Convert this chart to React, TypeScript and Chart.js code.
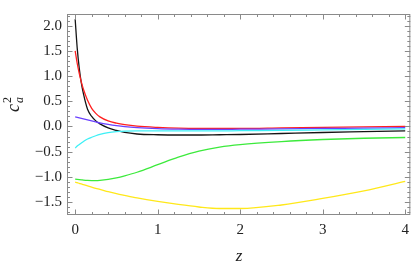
import { useEffect, useRef } from "react";
import { Chart, registerables } from "chart.js";

Chart.register(...registerables);

// ---- data ----
const zValues = [0, 0.025, 0.05, 0.075, 0.1, 0.15, 0.2, 0.25, 0.3, 0.4, 0.5, 0.6, 0.75, 1, 1.25, 1.5, 1.75, 2, 2.5, 3, 3.5, 4];
const blackSeries = [2.13, 1.55, 1.15, 0.86, 0.65, 0.34, 0.2, 0.11, 0.05, -0.03, -0.08, -0.12, -0.15, -0.165, -0.17, -0.17, -0.165, -0.16, -0.14, -0.12, -0.105, -0.09];
const redSeries = [1.5, 1.25, 1.05, 0.88, 0.74, 0.52, 0.36, 0.26, 0.19, 0.11, 0.065, 0.035, 0.005, -0.02, -0.035, -0.04, -0.04, -0.04, -0.03, -0.02, -0.01, 0.0];
const blueSeries = [0.19, 0.18, 0.17, 0.16, 0.15, 0.13, 0.11, 0.09, 0.07, 0.04, 0.015, -0.005, -0.025, -0.045, -0.055, -0.06, -0.06, -0.055, -0.05, -0.04, -0.035, -0.025];
const cyanSeries = [-0.43, -0.39, -0.36, -0.33, -0.3, -0.25, -0.215, -0.185, -0.16, -0.125, -0.105, -0.095, -0.09, -0.09, -0.09, -0.09, -0.09, -0.085, -0.08, -0.07, -0.06, -0.05];
const greenSeries = [-1.045, -1.05, -1.055, -1.06, -1.065, -1.072, -1.075, -1.075, -1.07, -1.05, -1.02, -0.98, -0.91, -0.76, -0.61, -0.49, -0.41, -0.36, -0.3, -0.26, -0.235, -0.22];
const yellowSeries = [-1.105, -1.117, -1.13, -1.142, -1.155, -1.18, -1.205, -1.23, -1.25, -1.295, -1.335, -1.37, -1.42, -1.49, -1.55, -1.6, -1.63, -1.63, -1.56, -1.43, -1.28, -1.09];

const xTickValues = [0, 1, 2, 3, 4];
const xTickLabels = ["0", "1", "2", "3", "4"];
const yTickValues = [-1.5, -1, -0.5, 0, 0.5, 1, 1.5, 2];
const yTickLabels = ["\u22121.5", "\u22121.0", "\u22120.5", "0.0", "0.5", "1.0", "1.5", "2.0"];
const xAxisTitle = "z";
const yAxisTitleBase = "c";
const yAxisTitleSub = "a";
const yAxisTitleSup = "2";

const X_MIN = -0.099;
const X_MAX = 4.062;
const Y_MIN = -1.759;
const Y_MAX = 2.233;

const SERIF = '"Liberation Serif", "Times New Roman", "DejaVu Serif", serif';

const toPoints = (ys: number[]) => ys.map((y, i) => ({ x: zValues[i], y }));

const framePlugin = {
  id: "mmaFrame",
  afterDraw(chart: any) {
    const { ctx, chartArea, scales } = chart;
    const { left, right, top, bottom } = chartArea;
    const xs = scales.x;
    const ys = scales.y;
    ctx.save();
    ctx.strokeStyle = "#8a8a8a";
    ctx.lineWidth = 1;
    ctx.strokeRect(left + 0.5, top + 0.5, right - left - 1, bottom - top - 1);

    const majorLen = 5.5;
    const minorLen = 3;
    ctx.beginPath();
    // x ticks (bottom & top)
    for (let k = -1; k <= 21; k++) {
      const v = k * 0.2;
      if (v < X_MIN || v > X_MAX) continue;
      const isMajor = Math.abs(v - Math.round(v)) < 1e-9;
      const len = isMajor ? majorLen : minorLen;
      const px = Math.round(xs.getPixelForValue(v)) + 0.5;
      ctx.moveTo(px, bottom);
      ctx.lineTo(px, bottom - len);
      ctx.moveTo(px, top);
      ctx.lineTo(px, top + len);
    }
    // y ticks (left & right)
    for (let k = -20; k <= 25; k++) {
      const v = k * 0.1;
      if (v < Y_MIN || v > Y_MAX) continue;
      const isMajor = k % 5 === 0;
      const len = isMajor ? majorLen : minorLen;
      const py = Math.round(ys.getPixelForValue(v)) + 0.5;
      ctx.moveTo(left, py);
      ctx.lineTo(left + len, py);
      ctx.moveTo(right, py);
      ctx.lineTo(right - len, py);
    }
    ctx.stroke();

    // axis titles
    ctx.fillStyle = "#222";
    ctx.textAlign = "center";
    ctx.textBaseline = "alphabetic";
    ctx.font = `italic 17px ${SERIF}`;
    ctx.fillText(xAxisTitle, (left + right) / 2 + 0.5, 261);

    ctx.translate(19, 112);
    ctx.rotate(-Math.PI / 2);
    ctx.textAlign = "left";
    ctx.font = `italic 18px ${SERIF}`;
    ctx.fillText(yAxisTitleBase, 0, 0);
    const cw = ctx.measureText(yAxisTitleBase).width;
    ctx.font = `italic 12px ${SERIF}`;
    ctx.fillText(yAxisTitleSub, cw + 1, 4);
    ctx.font = `12px ${SERIF}`;
    ctx.fillText(yAxisTitleSup, cw + 1, -8);
    ctx.restore();
  },
};

export default function App() {
  const canvasRef = useRef<HTMLCanvasElement | null>(null);

  useEffect(() => {
    document.body.style.margin = "0";
    const canvas = canvasRef.current;
    if (!canvas) return;
    const line = (data: number[], color: string) => ({
      data: toPoints(data),
      borderColor: color,
      backgroundColor: color,
      borderWidth: 1.3,
      pointRadius: 0,
      fill: false,
      cubicInterpolationMode: "monotone" as const,
    });
    const chart = new Chart(canvas, {
      type: "line",
      data: {
        datasets: [
          line(yellowSeries, "#ffe81a"),
          line(greenSeries, "#3cea3c"),
          line(cyanSeries, "#3ef0f6"),
          line(blueSeries, "#6a40ff"),
          line(redSeries, "#ff2020"),
          line(blackSeries, "#151515"),
        ],
      },
      options: {
        animation: false,
        responsive: false,
        devicePixelRatio: 1,
        parsing: true,
        layout: { padding: { top: 1, right: 2, left: 0, bottom: 0 } },
        plugins: { legend: { display: false }, tooltip: { enabled: false }, title: { display: false } },
        scales: {
          x: {
            type: "linear",
            min: X_MIN,
            max: X_MAX,
            grid: { display: false, drawTicks: false },
            border: { display: false },
            afterBuildTicks: (scale: any) => {
              scale.ticks = xTickValues.map((v) => ({ value: v }));
            },
            afterFit: (scale: any) => {
              scale.height = 51;
            },
            ticks: {
              autoSkip: false,
              maxRotation: 0,
              padding: 6,
              color: "#222",
              font: { family: SERIF, size: 15 },
              callback: (v: any) => {
                const i = xTickValues.indexOf(Number(v));
                return i >= 0 ? xTickLabels[i] : "";
              },
            },
          },
          y: {
            type: "linear",
            min: Y_MIN,
            max: Y_MAX,
            grid: { display: false, drawTicks: false },
            border: { display: false },
            afterBuildTicks: (scale: any) => {
              scale.ticks = yTickValues.map((v) => ({ value: v }));
            },
            afterFit: (scale: any) => {
              scale.width = 67;
            },
            ticks: {
              autoSkip: false,
              padding: 5,
              color: "#222",
              font: { family: SERIF, size: 15 },
              callback: (v: any) => {
                const i = yTickValues.findIndex((t) => Math.abs(t - Number(v)) < 1e-9);
                return i >= 0 ? yTickLabels[i] : "";
              },
            },
          },
        },
      },
      plugins: [framePlugin],
    });
    return () => chart.destroy();
  }, []);

  return (
    <div style={{ position: "absolute", left: 0, top: 0, width: 415, height: 266, background: "#fff" }}>
      <canvas ref={canvasRef} width={415} height={266} style={{ display: "block" }} />
    </div>
  );
}
